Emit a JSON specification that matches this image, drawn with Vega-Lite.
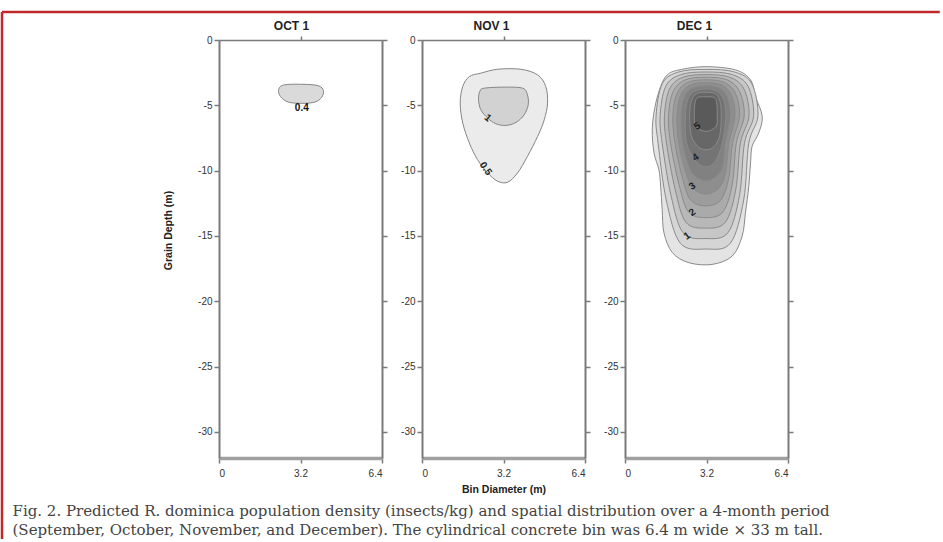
{
  "$schema": "https://vega.github.io/schema/vega-lite/v6.json",
  "padding": {"left": 0, "top": 10, "right": 0, "bottom": 0},
  "bounds": "flush",
  "spacing": 40,
  "background": "white",
  "resolve": {"scale": {"fill": "independent"}},
  "config": {
    "font": "Liberation Sans",
    "view": {"stroke": null},
    "axis": {"grid": false, "domainColor": "#7a7a7a", "domainWidth": 2, "tickColor": "#7a7a7a", "tickWidth": 1.5, "tickSize": 5, "labelFont": "Liberation Sans", "labelFontSize": 10, "labelColor": "#333333", "labelPadding": 2, "titleFont": "Liberation Sans", "titleFontSize": 10.5, "titleFontWeight": "bold", "titleColor": "#222222"}
  },
  "datasets": {
    "frame": [{"part": "border"}],
    "oct": [
      {"shape": "o1", "pt": 0, "x": 2.53, "y": -3.45},
      {"shape": "o1", "pt": 1, "x": 3.25, "y": -3.39},
      {"shape": "o1", "pt": 2, "x": 3.90, "y": -3.50},
      {"shape": "o1", "pt": 3, "x": 4.10, "y": -3.88},
      {"shape": "o1", "pt": 4, "x": 4.03, "y": -4.39},
      {"shape": "o1", "pt": 5, "x": 3.77, "y": -4.75},
      {"shape": "o1", "pt": 6, "x": 3.25, "y": -4.85},
      {"shape": "o1", "pt": 7, "x": 2.72, "y": -4.75},
      {"shape": "o1", "pt": 8, "x": 2.42, "y": -4.34},
      {"shape": "o1", "pt": 9, "x": 2.34, "y": -3.83}
    ],
    "octLab": [{"label": "0.4", "x": 3.25, "y": -5.2}],
    "nov": [
      {"shape": "n1", "lvl": 0.5, "pt": 0, "x": 2.31, "y": -2.54},
      {"shape": "n1", "lvl": 0.5, "pt": 1, "x": 2.97, "y": -2.24},
      {"shape": "n1", "lvl": 0.5, "pt": 2, "x": 3.88, "y": -2.24},
      {"shape": "n1", "lvl": 0.5, "pt": 3, "x": 4.54, "y": -2.67},
      {"shape": "n1", "lvl": 0.5, "pt": 4, "x": 4.86, "y": -3.56},
      {"shape": "n1", "lvl": 0.5, "pt": 5, "x": 4.93, "y": -4.83},
      {"shape": "n1", "lvl": 0.5, "pt": 6, "x": 4.80, "y": -6.11},
      {"shape": "n1", "lvl": 0.5, "pt": 7, "x": 4.54, "y": -7.38},
      {"shape": "n1", "lvl": 0.5, "pt": 8, "x": 4.14, "y": -8.91},
      {"shape": "n1", "lvl": 0.5, "pt": 9, "x": 3.75, "y": -10.18},
      {"shape": "n1", "lvl": 0.5, "pt": 10, "x": 3.36, "y": -10.89},
      {"shape": "n1", "lvl": 0.5, "pt": 11, "x": 2.97, "y": -10.81},
      {"shape": "n1", "lvl": 0.5, "pt": 12, "x": 2.58, "y": -10.18},
      {"shape": "n1", "lvl": 0.5, "pt": 13, "x": 2.18, "y": -9.16},
      {"shape": "n1", "lvl": 0.5, "pt": 14, "x": 1.86, "y": -7.89},
      {"shape": "n1", "lvl": 0.5, "pt": 15, "x": 1.60, "y": -6.36},
      {"shape": "n1", "lvl": 0.5, "pt": 16, "x": 1.50, "y": -4.83},
      {"shape": "n1", "lvl": 0.5, "pt": 17, "x": 1.60, "y": -3.56},
      {"shape": "n1", "lvl": 0.5, "pt": 18, "x": 1.86, "y": -2.80},
      {"shape": "n2", "lvl": 1, "pt": 0, "x": 2.44, "y": -3.69},
      {"shape": "n2", "lvl": 1, "pt": 1, "x": 3.23, "y": -3.61},
      {"shape": "n2", "lvl": 1, "pt": 2, "x": 3.95, "y": -3.69},
      {"shape": "n2", "lvl": 1, "pt": 3, "x": 4.14, "y": -4.20},
      {"shape": "n2", "lvl": 1, "pt": 4, "x": 4.17, "y": -4.96},
      {"shape": "n2", "lvl": 1, "pt": 5, "x": 4.01, "y": -5.73},
      {"shape": "n2", "lvl": 1, "pt": 6, "x": 3.69, "y": -6.31},
      {"shape": "n2", "lvl": 1, "pt": 7, "x": 3.29, "y": -6.54},
      {"shape": "n2", "lvl": 1, "pt": 8, "x": 2.90, "y": -6.41},
      {"shape": "n2", "lvl": 1, "pt": 9, "x": 2.58, "y": -5.98},
      {"shape": "n2", "lvl": 1, "pt": 10, "x": 2.31, "y": -5.34},
      {"shape": "n2", "lvl": 1, "pt": 11, "x": 2.22, "y": -4.58},
      {"shape": "n2", "lvl": 1, "pt": 12, "x": 2.27, "y": -3.94}
    ],
    "novLab1": [{"label": "1", "x": 2.58, "y": -5.98}],
    "novLab05": [{"label": "0.5", "x": 2.5, "y": -9.85}],
    "dec": [
      {"shape": "d00", "lvl": 0.5, "pt": 0, "x": 2.12, "y": -2.29},
      {"shape": "d00", "lvl": 0.5, "pt": 1, "x": 3.16, "y": -2.04},
      {"shape": "d00", "lvl": 0.5, "pt": 2, "x": 4.34, "y": -2.29},
      {"shape": "d00", "lvl": 0.5, "pt": 3, "x": 4.93, "y": -3.05},
      {"shape": "d00", "lvl": 0.5, "pt": 4, "x": 5.12, "y": -4.33},
      {"shape": "d00", "lvl": 0.5, "pt": 5, "x": 5.39, "y": -5.85},
      {"shape": "d00", "lvl": 0.5, "pt": 6, "x": 5.25, "y": -7.12},
      {"shape": "d00", "lvl": 0.5, "pt": 7, "x": 4.99, "y": -8.14},
      {"shape": "d00", "lvl": 0.5, "pt": 8, "x": 4.93, "y": -9.41},
      {"shape": "d00", "lvl": 0.5, "pt": 9, "x": 4.86, "y": -11.2},
      {"shape": "d00", "lvl": 0.5, "pt": 10, "x": 4.73, "y": -13.23},
      {"shape": "d00", "lvl": 0.5, "pt": 11, "x": 4.60, "y": -15.01},
      {"shape": "d00", "lvl": 0.5, "pt": 12, "x": 4.21, "y": -16.54},
      {"shape": "d00", "lvl": 0.5, "pt": 13, "x": 3.42, "y": -17.18},
      {"shape": "d00", "lvl": 0.5, "pt": 14, "x": 2.51, "y": -17.05},
      {"shape": "d00", "lvl": 0.5, "pt": 15, "x": 1.86, "y": -16.28},
      {"shape": "d00", "lvl": 0.5, "pt": 16, "x": 1.53, "y": -14.76},
      {"shape": "d00", "lvl": 0.5, "pt": 17, "x": 1.46, "y": -12.98},
      {"shape": "d00", "lvl": 0.5, "pt": 18, "x": 1.40, "y": -11.2},
      {"shape": "d00", "lvl": 0.5, "pt": 19, "x": 1.33, "y": -9.92},
      {"shape": "d00", "lvl": 0.5, "pt": 20, "x": 1.14, "y": -8.65},
      {"shape": "d00", "lvl": 0.5, "pt": 21, "x": 1.07, "y": -6.87},
      {"shape": "d00", "lvl": 0.5, "pt": 22, "x": 1.18, "y": -5.09},
      {"shape": "d00", "lvl": 0.5, "pt": 23, "x": 1.40, "y": -3.56},
      {"shape": "d00", "lvl": 0.5, "pt": 24, "x": 1.66, "y": -2.67},

      {"shape": "d01", "lvl": 1, "pt": 0, "x": 3.18, "y": -2.25},
      {"shape": "d01", "lvl": 1, "pt": 1, "x": 4.30, "y": -2.45},
      {"shape": "d01", "lvl": 1, "pt": 2, "x": 4.98, "y": -3.35},
      {"shape": "d01", "lvl": 1, "pt": 3, "x": 5.22, "y": -5.8},
      {"shape": "d01", "lvl": 1, "pt": 4, "x": 4.86, "y": -7.9},
      {"shape": "d01", "lvl": 1, "pt": 5, "x": 4.66, "y": -12.25},
      {"shape": "d01", "lvl": 1, "pt": 6, "x": 4.14, "y": -15.55},
      {"shape": "d01", "lvl": 1, "pt": 7, "x": 3.18, "y": -16.0},
      {"shape": "d01", "lvl": 1, "pt": 8, "x": 2.17, "y": -15.55},
      {"shape": "d01", "lvl": 1, "pt": 9, "x": 1.62, "y": -12.25},
      {"shape": "d01", "lvl": 1, "pt": 10, "x": 1.30, "y": -7.9},
      {"shape": "d01", "lvl": 1, "pt": 11, "x": 1.22, "y": -5.8},
      {"shape": "d01", "lvl": 1, "pt": 12, "x": 1.46, "y": -3.35},
      {"shape": "d01", "lvl": 1, "pt": 13, "x": 2.10, "y": -2.45},

      {"shape": "d02", "lvl": 1.5, "pt": 0, "x": 3.18, "y": -2.45},
      {"shape": "d02", "lvl": 1.5, "pt": 1, "x": 4.21, "y": -2.65},
      {"shape": "d02", "lvl": 1.5, "pt": 2, "x": 4.83, "y": -3.55},
      {"shape": "d02", "lvl": 1.5, "pt": 3, "x": 5.05, "y": -5.8},
      {"shape": "d02", "lvl": 1.5, "pt": 4, "x": 4.69, "y": -7.9},
      {"shape": "d02", "lvl": 1.5, "pt": 5, "x": 4.50, "y": -11.85},
      {"shape": "d02", "lvl": 1.5, "pt": 6, "x": 4.04, "y": -14.75},
      {"shape": "d02", "lvl": 1.5, "pt": 7, "x": 3.18, "y": -15.2},
      {"shape": "d02", "lvl": 1.5, "pt": 8, "x": 2.28, "y": -14.75},
      {"shape": "d02", "lvl": 1.5, "pt": 9, "x": 1.80, "y": -11.85},
      {"shape": "d02", "lvl": 1.5, "pt": 10, "x": 1.46, "y": -7.9},
      {"shape": "d02", "lvl": 1.5, "pt": 11, "x": 1.38, "y": -5.8},
      {"shape": "d02", "lvl": 1.5, "pt": 12, "x": 1.60, "y": -3.55},
      {"shape": "d02", "lvl": 1.5, "pt": 13, "x": 2.19, "y": -2.65},

      {"shape": "d03", "lvl": 2, "pt": 0, "x": 3.18, "y": -2.65},
      {"shape": "d03", "lvl": 2, "pt": 1, "x": 4.11, "y": -2.85},
      {"shape": "d03", "lvl": 2, "pt": 2, "x": 4.67, "y": -3.75},
      {"shape": "d03", "lvl": 2, "pt": 3, "x": 4.87, "y": -5.8},
      {"shape": "d03", "lvl": 2, "pt": 4, "x": 4.53, "y": -7.9},
      {"shape": "d03", "lvl": 2, "pt": 5, "x": 4.35, "y": -11.45},
      {"shape": "d03", "lvl": 2, "pt": 6, "x": 3.94, "y": -13.95},
      {"shape": "d03", "lvl": 2, "pt": 7, "x": 3.18, "y": -14.4},
      {"shape": "d03", "lvl": 2, "pt": 8, "x": 2.39, "y": -13.95},
      {"shape": "d03", "lvl": 2, "pt": 9, "x": 1.97, "y": -11.45},
      {"shape": "d03", "lvl": 2, "pt": 10, "x": 1.63, "y": -7.9},
      {"shape": "d03", "lvl": 2, "pt": 11, "x": 1.55, "y": -5.8},
      {"shape": "d03", "lvl": 2, "pt": 12, "x": 1.75, "y": -3.75},
      {"shape": "d03", "lvl": 2, "pt": 13, "x": 2.28, "y": -2.85},

      {"shape": "d04", "lvl": 2.5, "pt": 0, "x": 3.18, "y": -2.85},
      {"shape": "d04", "lvl": 2.5, "pt": 1, "x": 4.01, "y": -3.05},
      {"shape": "d04", "lvl": 2.5, "pt": 2, "x": 4.50, "y": -3.95},
      {"shape": "d04", "lvl": 2.5, "pt": 3, "x": 4.68, "y": -5.8},
      {"shape": "d04", "lvl": 2.5, "pt": 4, "x": 4.37, "y": -7.9},
      {"shape": "d04", "lvl": 2.5, "pt": 5, "x": 4.21, "y": -11.05},
      {"shape": "d04", "lvl": 2.5, "pt": 6, "x": 3.85, "y": -13.15},
      {"shape": "d04", "lvl": 2.5, "pt": 7, "x": 3.18, "y": -13.6},
      {"shape": "d04", "lvl": 2.5, "pt": 8, "x": 2.49, "y": -13.15},
      {"shape": "d04", "lvl": 2.5, "pt": 9, "x": 2.12, "y": -11.05},
      {"shape": "d04", "lvl": 2.5, "pt": 10, "x": 1.79, "y": -7.9},
      {"shape": "d04", "lvl": 2.5, "pt": 11, "x": 1.71, "y": -5.8},
      {"shape": "d04", "lvl": 2.5, "pt": 12, "x": 1.89, "y": -3.95},
      {"shape": "d04", "lvl": 2.5, "pt": 13, "x": 2.37, "y": -3.05},

      {"shape": "d05", "lvl": 3, "pt": 0, "x": 3.18, "y": -3.05},
      {"shape": "d05", "lvl": 3, "pt": 1, "x": 3.91, "y": -3.25},
      {"shape": "d05", "lvl": 3, "pt": 2, "x": 4.34, "y": -4.1},
      {"shape": "d05", "lvl": 3, "pt": 3, "x": 4.50, "y": -5.8},
      {"shape": "d05", "lvl": 3, "pt": 4, "x": 4.22, "y": -7.9},
      {"shape": "d05", "lvl": 3, "pt": 5, "x": 4.07, "y": -10.6},
      {"shape": "d05", "lvl": 3, "pt": 6, "x": 3.76, "y": -12.25},
      {"shape": "d05", "lvl": 3, "pt": 7, "x": 3.18, "y": -12.7},
      {"shape": "d05", "lvl": 3, "pt": 8, "x": 2.58, "y": -12.25},
      {"shape": "d05", "lvl": 3, "pt": 9, "x": 2.26, "y": -10.6},
      {"shape": "d05", "lvl": 3, "pt": 10, "x": 1.96, "y": -7.9},
      {"shape": "d05", "lvl": 3, "pt": 11, "x": 1.88, "y": -5.8},
      {"shape": "d05", "lvl": 3, "pt": 12, "x": 2.04, "y": -4.1},
      {"shape": "d05", "lvl": 3, "pt": 13, "x": 2.46, "y": -3.25},

      {"shape": "d06", "lvl": 3.5, "pt": 0, "x": 3.18, "y": -3.25},
      {"shape": "d06", "lvl": 3.5, "pt": 1, "x": 3.81, "y": -3.45},
      {"shape": "d06", "lvl": 3.5, "pt": 2, "x": 4.18, "y": -4.25},
      {"shape": "d06", "lvl": 3.5, "pt": 3, "x": 4.32, "y": -5.8},
      {"shape": "d06", "lvl": 3.5, "pt": 4, "x": 4.08, "y": -7.9},
      {"shape": "d06", "lvl": 3.5, "pt": 5, "x": 3.95, "y": -10.15},
      {"shape": "d06", "lvl": 3.5, "pt": 6, "x": 3.68, "y": -11.35},
      {"shape": "d06", "lvl": 3.5, "pt": 7, "x": 3.18, "y": -11.8},
      {"shape": "d06", "lvl": 3.5, "pt": 8, "x": 2.67, "y": -11.35},
      {"shape": "d06", "lvl": 3.5, "pt": 9, "x": 2.39, "y": -10.15},
      {"shape": "d06", "lvl": 3.5, "pt": 10, "x": 2.11, "y": -7.9},
      {"shape": "d06", "lvl": 3.5, "pt": 11, "x": 2.04, "y": -5.8},
      {"shape": "d06", "lvl": 3.5, "pt": 12, "x": 2.18, "y": -4.25},
      {"shape": "d06", "lvl": 3.5, "pt": 13, "x": 2.55, "y": -3.45},

      {"shape": "d07", "lvl": 4, "pt": 0, "x": 3.18, "y": -3.5},
      {"shape": "d07", "lvl": 4, "pt": 1, "x": 3.71, "y": -3.68},
      {"shape": "d07", "lvl": 4, "pt": 2, "x": 4.02, "y": -4.4},
      {"shape": "d07", "lvl": 4, "pt": 3, "x": 4.14, "y": -5.8},
      {"shape": "d07", "lvl": 4, "pt": 4, "x": 3.94, "y": -7.9},
      {"shape": "d07", "lvl": 4, "pt": 5, "x": 3.84, "y": -9.65},
      {"shape": "d07", "lvl": 4, "pt": 6, "x": 3.61, "y": -10.4},
      {"shape": "d07", "lvl": 4, "pt": 7, "x": 3.18, "y": -10.8},
      {"shape": "d07", "lvl": 4, "pt": 8, "x": 2.74, "y": -10.4},
      {"shape": "d07", "lvl": 4, "pt": 9, "x": 2.50, "y": -9.65},
      {"shape": "d07", "lvl": 4, "pt": 10, "x": 2.26, "y": -7.9},
      {"shape": "d07", "lvl": 4, "pt": 11, "x": 2.20, "y": -5.8},
      {"shape": "d07", "lvl": 4, "pt": 12, "x": 2.32, "y": -4.4},
      {"shape": "d07", "lvl": 4, "pt": 13, "x": 2.64, "y": -3.68},

      {"shape": "d08", "lvl": 4.5, "pt": 0, "x": 3.18, "y": -3.75},
      {"shape": "d08", "lvl": 4.5, "pt": 1, "x": 3.61, "y": -3.92},
      {"shape": "d08", "lvl": 4.5, "pt": 2, "x": 3.87, "y": -4.55},
      {"shape": "d08", "lvl": 4.5, "pt": 3, "x": 3.96, "y": -5.8},
      {"shape": "d08", "lvl": 4.5, "pt": 4, "x": 3.82, "y": -7.9},
      {"shape": "d08", "lvl": 4.5, "pt": 5, "x": 3.54, "y": -9.3},
      {"shape": "d08", "lvl": 4.5, "pt": 6, "x": 3.18, "y": -9.7},
      {"shape": "d08", "lvl": 4.5, "pt": 7, "x": 2.80, "y": -9.3},
      {"shape": "d08", "lvl": 4.5, "pt": 8, "x": 2.42, "y": -7.9},
      {"shape": "d08", "lvl": 4.5, "pt": 9, "x": 2.37, "y": -5.8},
      {"shape": "d08", "lvl": 4.5, "pt": 10, "x": 2.47, "y": -4.55},
      {"shape": "d08", "lvl": 4.5, "pt": 11, "x": 2.73, "y": -3.92},

      {"shape": "d09", "lvl": 5, "pt": 0, "x": 3.18, "y": -4.0},
      {"shape": "d09", "lvl": 5, "pt": 1, "x": 3.55, "y": -4.12},
      {"shape": "d09", "lvl": 5, "pt": 2, "x": 3.73, "y": -4.7},
      {"shape": "d09", "lvl": 5, "pt": 3, "x": 3.78, "y": -5.8},
      {"shape": "d09", "lvl": 5, "pt": 4, "x": 3.72, "y": -7.3},
      {"shape": "d09", "lvl": 5, "pt": 5, "x": 3.50, "y": -8.15},
      {"shape": "d09", "lvl": 5, "pt": 6, "x": 3.18, "y": -8.4},
      {"shape": "d09", "lvl": 5, "pt": 7, "x": 2.86, "y": -8.15},
      {"shape": "d09", "lvl": 5, "pt": 8, "x": 2.60, "y": -7.3},
      {"shape": "d09", "lvl": 5, "pt": 9, "x": 2.54, "y": -5.8},
      {"shape": "d09", "lvl": 5, "pt": 10, "x": 2.60, "y": -4.7},
      {"shape": "d09", "lvl": 5, "pt": 11, "x": 2.80, "y": -4.12},

      {"shape": "d10", "lvl": 5.5, "pt": 0, "x": 3.18, "y": -4.35},
      {"shape": "d10", "lvl": 5.5, "pt": 1, "x": 3.50, "y": -4.4},
      {"shape": "d10", "lvl": 5.5, "pt": 2, "x": 3.60, "y": -4.8},
      {"shape": "d10", "lvl": 5.5, "pt": 3, "x": 3.62, "y": -5.7},
      {"shape": "d10", "lvl": 5.5, "pt": 4, "x": 3.58, "y": -6.6},
      {"shape": "d10", "lvl": 5.5, "pt": 5, "x": 3.18, "y": -7.0},
      {"shape": "d10", "lvl": 5.5, "pt": 6, "x": 2.78, "y": -6.6},
      {"shape": "d10", "lvl": 5.5, "pt": 7, "x": 2.72, "y": -5.7},
      {"shape": "d10", "lvl": 5.5, "pt": 8, "x": 2.75, "y": -4.8},
      {"shape": "d10", "lvl": 5.5, "pt": 9, "x": 2.86, "y": -4.4}
    ],
    "decLab": [
      {"label": "1", "x": 2.44, "y": -15.0},
      {"label": "2", "x": 2.64, "y": -13.2},
      {"label": "3", "x": 2.64, "y": -11.2},
      {"label": "4", "x": 2.77, "y": -9.0},
      {"label": "5", "x": 2.84, "y": -6.6}
    ]
  },
  "hconcat": [
    {
      "width": 163, "height": 418,
      "layer": [
        {
          "data": {"name": "frame"},
          "mark": {"type": "rule", "color": "#c0282e", "strokeWidth": 2.5},
          "encoding": {
            "x": {"datum": -8.52, "type": "quantitative", "scale": {"domain": [0, 6.4], "nice": false, "zero": false}, "axis": null},
            "x2": {"datum": 28.3},
            "y": {"datum": 2.14, "type": "quantitative", "scale": {"domain": [-32, 0], "nice": false, "zero": false}, "axis": null}
          }
        },
        {
          "data": {"name": "frame"},
          "mark": {"type": "rule", "color": "#c0282e", "strokeWidth": 2.5},
          "encoding": {
            "x": {"datum": -8.52, "type": "quantitative", "scale": {"domain": [0, 6.4], "nice": false, "zero": false}, "axis": null},
            "y": {"datum": 2.14, "type": "quantitative", "scale": {"domain": [-32, 0], "nice": false, "zero": false}, "axis": null},
            "y2": {"datum": -38.2}
          }
        },
        {
          "data": {"name": "oct"},
          "mark": {"type": "line", "interpolate": "cardinal-closed", "fill": "#dadada", "stroke": "#858585", "strokeWidth": 1},
          "encoding": {
            "x": {"field": "x", "type": "quantitative", "scale": {"domain": [0, 6.4], "nice": false, "zero": false}, "axis": {"orient": "bottom", "values": [0, 3.2, 6.4], "labelExpr": "'' + datum.value", "domainColor": "#a0a0a0", "domainWidth": 3.5, "labelPadding": 5,
              "title": ["Fig. 2. Predicted R. dominica population density (insects/kg) and spatial distribution over a 4-month period", "(September, October, November, and December). The cylindrical concrete bin was 6.4 m wide × 33 m tall."],
              "titleX": -207, "titleY": 45, "titleAnchor": "start", "titleAlign": "left", "titleBaseline": "top", "titleFont": "DejaVu Serif", "titleFontSize": 15, "titleFontWeight": "normal", "titleColor": "#444444", "titleLineHeight": 19}},
            "y": {"field": "y", "type": "quantitative", "scale": {"domain": [-32, 0], "nice": false, "zero": false}, "axis": {"orient": "left", "values": [0, -5, -10, -15, -20, -25, -30], "labelExpr": "'' + datum.value", "title": "Grain Depth (m)", "titlePadding": 24, "titleY": 190}},
            "detail": {"field": "shape"},
            "order": {"field": "pt", "type": "quantitative"}
          }
        },
        {
          "data": {"name": "octLab"},
          "mark": {"type": "text", "fontWeight": "bold", "fontSize": 10, "color": "#111111"},
          "encoding": {
            "x": {"field": "x", "type": "quantitative", "scale": {"domain": [0, 6.4], "nice": false, "zero": false}, "axis": {"orient": "top", "values": [3.2], "labels": false, "tickSize": 4, "domainWidth": 1.5, "title": "OCT 1", "titleFontSize": 12, "titlePadding": 3, "titleX": 72}},
            "y": {"field": "y", "type": "quantitative", "scale": {"domain": [-32, 0], "nice": false, "zero": false}, "axis": {"orient": "right", "values": [0, -5, -10, -15, -20, -25, -30], "labels": false, "title": null}},
            "text": {"field": "label"}
          }
        }
      ],
      "resolve": {"axis": {"x": "independent", "y": "independent"}}
    },
    {
      "width": 163, "height": 418,
      "layer": [
        {
          "data": {"name": "nov"},
          "mark": {"type": "line", "interpolate": "cardinal-closed", "stroke": "#858585", "strokeWidth": 1},
          "encoding": {
            "x": {"field": "x", "type": "quantitative", "scale": {"domain": [0, 6.4], "nice": false, "zero": false}, "axis": {"orient": "bottom", "values": [0, 3.2, 6.4], "labelExpr": "'' + datum.value", "title": "Bin Diameter (m)", "domainColor": "#a0a0a0", "domainWidth": 3.5, "labelPadding": 5, "titlePadding": 6}},
            "y": {"field": "y", "type": "quantitative", "scale": {"domain": [-32, 0], "nice": false, "zero": false}, "axis": {"orient": "left", "values": [0, -5, -10, -15, -20, -25, -30], "labelExpr": "'' + datum.value", "title": null}},
            "fill": {"field": "lvl", "type": "quantitative", "scale": {"domain": [0.5, 1], "range": ["#ebebeb", "#d2d2d2"]}, "legend": null},
            "detail": {"field": "shape"},
            "order": {"field": "pt", "type": "quantitative"}
          }
        },
        {
          "data": {"name": "novLab1"},
          "mark": {"type": "text", "fontWeight": "bold", "fontSize": 10, "color": "#222222", "angle": 40},
          "encoding": {
            "x": {"field": "x", "type": "quantitative", "scale": {"domain": [0, 6.4], "nice": false, "zero": false}, "axis": {"orient": "top", "values": [3.2], "labels": false, "tickSize": 4, "domainWidth": 1.5, "title": "NOV 1", "titleFontSize": 12, "titlePadding": 3, "titleX": 69}},
            "y": {"field": "y", "type": "quantitative", "scale": {"domain": [-32, 0], "nice": false, "zero": false}, "axis": {"orient": "right", "values": [0, -5, -10, -15, -20, -25, -30], "labels": false, "title": null}},
            "text": {"field": "label"}
          }
        },
        {
          "data": {"name": "novLab05"},
          "mark": {"type": "text", "fontWeight": "bold", "fontSize": 10, "color": "#222222", "angle": 55},
          "encoding": {
            "x": {"field": "x", "type": "quantitative", "scale": {"domain": [0, 6.4], "nice": false, "zero": false}, "axis": null},
            "y": {"field": "y", "type": "quantitative", "scale": {"domain": [-32, 0], "nice": false, "zero": false}, "axis": null},
            "text": {"field": "label"}
          }
        }
      ],
      "resolve": {"axis": {"x": "independent", "y": "independent"}}
    },
    {
      "width": 163, "height": 418,
      "layer": [
        {
          "data": {"name": "dec"},
          "mark": {"type": "line", "interpolate": "cardinal-closed", "stroke": "#8a8a8a", "strokeWidth": 1},
          "encoding": {
            "x": {"field": "x", "type": "quantitative", "scale": {"domain": [0, 6.4], "nice": false, "zero": false}, "axis": {"orient": "bottom", "values": [0, 3.2, 6.4], "labelExpr": "'' + datum.value", "title": null, "domainColor": "#a0a0a0", "domainWidth": 3.5, "labelPadding": 5}},
            "y": {"field": "y", "type": "quantitative", "scale": {"domain": [-32, 0], "nice": false, "zero": false}, "axis": {"orient": "left", "values": [0, -5, -10, -15, -20, -25, -30], "labelExpr": "'' + datum.value", "title": null}},
            "fill": {"field": "lvl", "type": "quantitative", "scale": {"domain": [0.5, 5.5], "range": ["#e4e4e4", "#5a5a5a"]}, "legend": null},
            "detail": {"field": "shape"},
            "order": {"field": "pt", "type": "quantitative"}
          }
        },
        {
          "data": {"name": "decLab"},
          "mark": {"type": "text", "fontWeight": "bold", "fontSize": 10, "color": "#222222", "angle": -35},
          "encoding": {
            "x": {"field": "x", "type": "quantitative", "scale": {"domain": [0, 6.4], "nice": false, "zero": false}, "axis": {"orient": "top", "values": [3.2], "labels": false, "tickSize": 4, "domainWidth": 1.5, "title": "DEC 1", "titleFontSize": 12, "titlePadding": 3, "titleX": 69}},
            "y": {"field": "y", "type": "quantitative", "scale": {"domain": [-32, 0], "nice": false, "zero": false}, "axis": {"orient": "right", "values": [0, -5, -10, -15, -20, -25, -30], "labels": false, "title": null}},
            "text": {"field": "label"}
          }
        }
      ],
      "resolve": {"axis": {"x": "independent", "y": "independent"}}
    }
  ]
}
